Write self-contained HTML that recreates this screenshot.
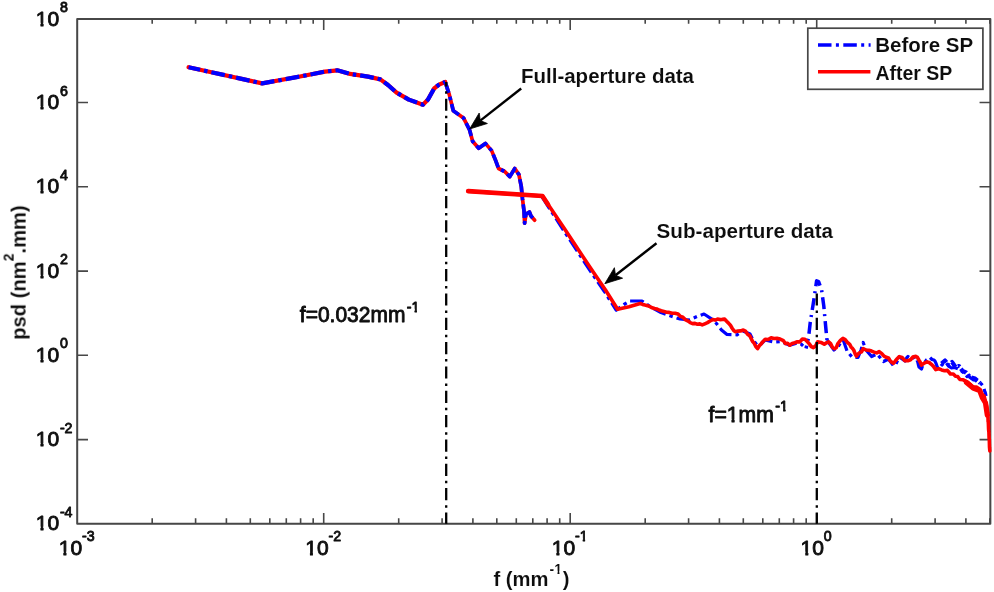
<!DOCTYPE html>
<html><head><meta charset="utf-8"><title>PSD plot</title>
<style>html,body{margin:0;padding:0;background:#fff;}svg{display:block}text{font-family:"Liberation Sans",Arial,Helvetica,sans-serif;fill:#0a0a0a;stroke:#0a0a0a;stroke-width:0.85px;stroke-linejoin:round}.b{font-weight:bold;stroke:#fff;stroke-width:0.09px}</style></head><body>
<svg width="994" height="592" viewBox="0 0 994 592">
<defs><filter id="soft" x="-5%" y="-5%" width="110%" height="110%"><feGaussianBlur stdDeviation="0.6"/></filter></defs>
<rect x="0" y="0" width="994" height="592" fill="#ffffff"/>
<g filter="url(#soft)">
<rect x="77.2" y="19.1" width="913.15" height="504.65" fill="none" stroke="#464646" stroke-width="2" stroke-linejoin="round"/>
<path d="M152.2 523.75v-5.4M152.2 19.1v4.7M195.6 523.75v-5.4M195.6 19.1v4.7M226.4 523.75v-5.4M226.4 19.1v4.7M250.3 523.75v-5.4M250.3 19.1v4.7M269.8 523.75v-5.4M269.8 19.1v4.7M286.3 523.75v-5.4M286.3 19.1v4.7M300.6 523.75v-5.4M300.6 19.1v4.7M313.2 523.75v-5.4M313.2 19.1v4.7M323.7 523.75v-10.8M323.7 19.1v10.8M398.7 523.75v-5.4M398.7 19.1v4.7M442.1 523.75v-5.4M442.1 19.1v4.7M472.9 523.75v-5.4M472.9 19.1v4.7M496.8 523.75v-5.4M496.8 19.1v4.7M516.3 523.75v-5.4M516.3 19.1v4.7M532.8 523.75v-5.4M532.8 19.1v4.7M547.1 523.75v-5.4M547.1 19.1v4.7M559.7 523.75v-5.4M559.7 19.1v4.7M570.2 523.75v-10.8M570.2 19.1v10.8M645.2 523.75v-5.4M645.2 19.1v4.7M688.6 523.75v-5.4M688.6 19.1v4.7M719.4 523.75v-5.4M719.4 19.1v4.7M743.3 523.75v-5.4M743.3 19.1v4.7M762.8 523.75v-5.4M762.8 19.1v4.7M779.3 523.75v-5.4M779.3 19.1v4.7M793.6 523.75v-5.4M793.6 19.1v4.7M806.2 523.75v-5.4M806.2 19.1v4.7M816.7 523.75v-10.8M816.7 19.1v10.8M891.7 523.75v-5.4M891.7 19.1v4.7M935.1 523.75v-5.4M935.1 19.1v4.7M965.9 523.75v-5.4M965.9 19.1v4.7M989.8 523.75v-5.4M989.8 19.1v4.7M77.2 102.5h10.8M990.35 102.5h-10.8M77.2 186.8h10.8M990.35 186.8h-10.8M77.2 271.1h10.8M990.35 271.1h-10.8M77.2 355.3h10.8M990.35 355.3h-10.8M77.2 439.6h10.8M990.35 439.6h-10.8" stroke="#464646" stroke-width="1.6" fill="none"/>
<clipPath id="c1"><path clip-rule="evenodd" d="M-400 -400H400V400H-400ZM0.10 -2.97H4.73V1.50H0.10ZM7.69 -2.97H12.15V1.50H7.69Z"/></clipPath>
<text font-size="21" clip-path="url(#c1)" transform="translate(35.8 25.8) scale(1.0 1.0)">10</text>
<text font-size="14.2" transform="translate(59.9 12.3) scale(1.0 1.0)">8</text>
<text font-size="21" clip-path="url(#c1)" transform="translate(35.8 109.1) scale(1.0 1.0)">10</text>
<text font-size="14.2" transform="translate(59.9 95.6) scale(1.0 1.0)">6</text>
<text font-size="21" clip-path="url(#c1)" transform="translate(35.8 193.4) scale(1.0 1.0)">10</text>
<text font-size="14.2" transform="translate(59.9 179.9) scale(1.0 1.0)">4</text>
<text font-size="21" clip-path="url(#c1)" transform="translate(35.8 277.7) scale(1.0 1.0)">10</text>
<text font-size="14.2" transform="translate(59.9 264.2) scale(1.0 1.0)">2</text>
<text font-size="21" clip-path="url(#c1)" transform="translate(35.8 361.9) scale(1.0 1.0)">10</text>
<text font-size="14.2" transform="translate(59.9 348.4) scale(1.0 1.0)">0</text>
<text font-size="21" clip-path="url(#c1)" transform="translate(35.8 446.2) scale(1.0 1.0)">10</text>
<text font-size="14.2" transform="translate(59.9 432.7) scale(1.0 1.0)">-2</text>
<text font-size="21" clip-path="url(#c1)" transform="translate(35.8 529.5) scale(1.0 1.0)">10</text>
<text font-size="14.2" transform="translate(59.9 517.0) scale(1.0 1.0)">-4</text>
<clipPath id="c2"><path clip-rule="evenodd" d="M-400 -400H400V400H-400ZM4.31 -2.46H7.75V1.50H4.31ZM10.10 -2.46H13.43V1.50H10.10Z"/></clipPath>
<text font-size="21" clip-path="url(#c1)" transform="translate(58.7 554.5) scale(1.0 1.0)">10</text>
<text font-size="14.2" transform="translate(82.0 540.7) scale(1.0 1.0)">-3</text>
<text font-size="21" clip-path="url(#c1)" transform="translate(305.2 554.5) scale(1.0 1.0)">10</text>
<text font-size="14.2" transform="translate(328.5 540.7) scale(1.0 1.0)">-2</text>
<text font-size="21" clip-path="url(#c1)" transform="translate(551.7 554.5) scale(1.0 1.0)">10</text>
<text font-size="14.2" clip-path="url(#c2)" transform="translate(575.0 540.7) scale(1.0 1.0)">-1</text>
<text font-size="21" clip-path="url(#c1)" transform="translate(800.6 554.5) scale(1.0 1.0)">10</text>
<text font-size="14.2" transform="translate(823.8 540.7) scale(1.0 1.0)">0</text>
<text class="b" font-size="20.2" transform="translate(25.6 339.8) rotate(-90)">psd (nm<tspan font-size="14" dy="-12.2">2</tspan><tspan dy="12.2">.mm)</tspan></text>
<clipPath id="c3"><path clip-rule="evenodd" d="M-400 -400H400V400H-400ZM60.23 -15.03H64.12V-10.70H60.23ZM66.04 -15.03H69.75V-10.70H66.04Z"/></clipPath>
<text class="b" font-size="20.2" clip-path="url(#c3)" transform="translate(493.4 585.8)">f (mm<tspan font-size="14" dy="-12.2" dx="1.2">-1</tspan><tspan dy="12.2" dx="0.8">)</tspan></text>
<path d="M445.2 82.0L449.3 94.6L453.3 110.8L463.5 117.9L469.6 130.0L472.6 141.2L478.7 148.3L485.4 143.4L491.6 150.6L495.6 160.4L498.6 168.5L504.7 171.5L509.8 176.6L514.8 168.5L518.9 174.6L521.3 186.7L522.5 198.9L524.0 211.0L524.6 223.2L526.0 214.0L529.4 212.0L531.0 216.0L534.7 220.2" stroke="#ff0000" stroke-width="3.7" fill="none" stroke-linejoin="round" stroke-linecap="round"/>
<path d="M445.2 82.0L449.3 94.6L453.3 110.8L463.5 117.9L469.6 130.0L472.6 141.2L478.7 148.3L485.4 143.4L491.6 150.6L495.6 160.4L498.6 168.5L504.7 171.5L509.8 176.6L514.8 168.5L518.9 174.6L521.3 186.7L522.5 198.9L524.0 211.0L524.6 223.2L526.0 214.0L529.4 212.0L531.0 216.0L534.7 220.2" stroke="#0000ff" stroke-width="3.7" fill="none" stroke-linejoin="round" stroke-dasharray="13.8 4.0 3.5 4.0" stroke-dashoffset="2.3"/>
<path d="M188.6 67.2L262.2 83.4L300.0 76.5L325.0 71.6L337.2 70.3L350.0 73.9L368.0 76.6L380.4 79.4L388.0 85.0L396.6 92.6L408.8 99.6L422.9 104.7L428.0 99.6L434.1 88.5L439.0 84.6L445.2 82.0" stroke="#ff0000" stroke-width="4.2" fill="none" stroke-linejoin="round" stroke-linecap="round"/>
<path d="M188.6 67.2L262.2 83.4L300.0 76.5L325.0 71.6L337.2 70.3L350.0 73.9L368.0 76.6L380.4 79.4L388.0 85.0L396.6 92.6L408.8 99.6L422.9 104.7L428.0 99.6L434.1 88.5L439.0 84.6L445.2 82.0" stroke="#0000ff" stroke-width="4.2" fill="none" stroke-linejoin="round" stroke-dasharray="13.8 4.0 3.5 4.0" stroke-dashoffset="2.0"/>
<path d="M542.2 197.2L564.0 231.0L588.9 268.9L604.4 291.5L616.2 310.2L624.0 304.5L630.0 301.0L642.0 301.0L650.0 306.5L661.0 312.5L672.0 316.5L680.0 319.0L689.0 320.0L697.0 316.5L704.0 314.0L712.7 319.6L716.0 323.0L721.5 330.0L727.0 334.5L737.0 334.8L743.0 331.0L750.0 334.0L753.0 340.0L757.0 345.0L761.0 344.0L765.0 340.0L774.0 342.0L781.0 341.5L789.7 345.2L797.0 343.0L801.0 344.0L806.0 348.5" stroke="#0000ff" stroke-width="3.2" fill="none" stroke-linejoin="round" stroke-dasharray="13.8 4.0 3.5 4.0"/>
<path d="M806.0 348.5L808.5 338.0L810.3 322.0L813.2 304.0L815.3 290.0L816.6 280.8L818.6 281.6L821.6 290.0L823.8 306.0L826.0 330.0L827.0 340.0" stroke="#0000ff" stroke-width="3.5" fill="none" stroke-linejoin="round" stroke-dasharray="12 5 2 5" stroke-dashoffset="9"/>
<path d="M827.0 340.0L829.0 343.0L834.0 350.0L838.0 347.0L842.9 339.0L847.0 351.0L852.0 357.0L858.0 357.5L861.0 350.0L863.2 342.5L866.0 350.0L871.6 356.5L877.0 354.0L883.5 361.5L888.5 359.0L893.6 366.0L896.0 364.0L899.3 357.0L905.0 361.0L906.0 359.2L907.0 357.4L908.0 356.5L910.0 358.0L912.0 359.0L914.0 357.2L916.0 357.0L916.6 359.1L917.2 360.7L917.8 362.1L918.4 365.0L919.0 367.0L921.5 369.0L922.4 366.3L923.2 365.4L924.1 362.8L925.0 362.0L926.7 359.6L928.3 358.8L930.0 357.5L932.0 359.5L934.0 360.0L935.0 361.1L936.0 363.3L937.0 366.3L938.0 368.0L939.5 368.0L941.0 365.9L942.5 364.4L944.0 363.5L945.7 365.8L947.3 364.3L949.0 366.5L951.5 368.0L954.0 367.5L956.0 368.0L958.0 368.8L960.0 371.0L962.0 371.1L964.0 373.5L965.5 373.9L967.0 376.5L968.5 375.5L970.0 377.5L971.8 378.8L973.5 380.0L975.2 380.1L977.0 381.5L978.4 383.0L979.8 382.5L981.2 383.8L982.6 385.6L984.0 388.0L984.5 390.7L985.0 391.7L985.5 393.3L986.0 396.0" stroke="#0000ff" stroke-width="3.2" fill="none" stroke-linejoin="round" stroke-dasharray="13.8 4.0 3.5 4.0"/>
<path d="M941.5 363.5L945 360.5L948.5 365L952 362L955.5 367L959 366L962.5 371L966 372.5L970 377L975 378.5L980 383" stroke="#0000ff" stroke-width="4.2" fill="none" stroke-linejoin="round" stroke-dasharray="7 2.4 2.2 2.4"/>
<path d="M468.2 191.2L542.4 196.0L565.0 229.6L590.0 267.3L605.5 290.0L617.6 309.2L629.0 306.7L640.2 303.5L642.6 304.4L645.0 305.1L647.5 305.7L649.9 306.7L652.2 307.8L654.4 308.5L656.7 308.9L658.9 310.0L661.2 310.8L663.9 311.4L666.5 312.2L669.2 312.4L672.2 313.2L675.1 313.2L678.1 314.0L680.5 316.4L682.9 317.3L685.3 319.6L687.7 320.8L690.2 322.6L692.6 323.6L695.0 323.4L697.4 324.2L699.8 323.9L702.2 324.9L704.8 323.8L707.5 322.6L710.1 321.0L712.7 319.6L715.1 320.1L717.5 319.1L719.9 319.6L722.3 319.4L724.7 319.1L726.6 321.3L728.5 323.1L730.4 325.2L732.0 328.0L733.6 330.3L735.2 331.7L737.9 331.1L740.6 330.9L743.3 330.1L745.4 331.1L747.6 334.2L749.7 335.7L751.1 338.4L752.6 341.6L754.0 343.0L755.8 346.5L757.6 348.6L759.3 345.8L761.0 344.0L763.1 341.4L765.2 339.3L768.2 339.5L771.1 337.8L774.0 338.5L777.0 338.4L779.1 338.7L781.2 339.7L783.4 340.7L785.5 343.6L787.6 343.2L789.7 345.2L792.2 343.4L794.8 342.7L797.3 341.8L799.8 341.9L802.4 339.0L804.9 339.3L807.0 341.3L809.1 343.6L811.3 346.6L813.4 347.7L814.8 346.6L816.2 344.8L817.6 341.8L821.0 342.4L824.3 344.3L826.5 342.8L828.6 341.8L830.6 343.6L832.5 347.5L834.5 348.6L836.2 347.9L837.9 343.5L839.5 341.5L841.2 339.6L842.9 338.4L845.2 339.6L847.4 342.3L849.7 344.3L851.0 346.9L852.4 348.3L853.7 350.0L855.1 353.6L856.4 356.2L858.1 353.9L859.8 352.6L861.5 351.9L863.2 348.6L866.0 350.0L868.8 350.3L871.6 351.1L874.1 352.1L876.7 352.9L879.2 351.6L881.8 353.6L884.0 356.2L886.3 357.3L888.5 357.9L890.2 360.8L891.9 362.4L893.6 363.3L895.5 360.7L897.4 358.5L899.3 356.6L902.1 357.5L905.0 360.8L907.8 360.7L910.5 359.7L913.2 356.7L916.0 356.4L917.4 357.3L918.8 359.9L920.1 362.0L921.5 365.2L924.2 363.1L927.0 361.9L929.2 362.5L931.4 364.3L933.6 366.6L935.8 369.6L938.7 368.8L941.6 369.9L944.5 370.7L947.4 370.4L950.4 374.0L953.3 374.0L955.5 376.2L957.7 376.6L959.9 379.5L963.2 379.8L966.5 381.6L968.7 383.0L970.9 384.9L973.1 387.1L976.4 387.1L979.7 389.3L981.2 392.5L982.6 395.2L984.1 395.9L984.8 398.7L985.6 401.7L986.3 404.7L986.6 406.1L987.0 408.8L987.3 412.2L987.7 414.6L988.0 418.0L988.1 421.5L988.3 422.0L988.4 424.1L988.6 429.4L988.7 430.6L988.9 431.9L989.0 435.5L989.1 438.2L989.3 439.2L989.4 443.3L989.5 447.2L989.7 449.4L989.8 450.9" stroke="#ff0000" stroke-width="3.6" fill="none" stroke-linejoin="round" stroke-linecap="round"/>
<path d="M468.2 191.2L542.4 196L548 204.5" stroke="#ff0000" stroke-width="4.7" fill="none" stroke-linejoin="round" stroke-linecap="round"/>
<path d="M966.5 382.6L973.1 388L979.7 390.5L982.5 398L985.5 403L987.3 415" stroke="#ff0000" stroke-width="5.2" fill="none" stroke-linejoin="round" stroke-linecap="round"/>
<path d="M446.2 523.75V82" stroke="#000" stroke-width="2.3" fill="none" stroke-dasharray="12.2 4.8 2.5 4.84" stroke-dashoffset="0.9"/>
<path d="M816.8 523.75V291" stroke="#000" stroke-width="2.3" fill="none" stroke-dasharray="12.2 4.8 2.5 4.84" stroke-dashoffset="0.9"/>
<text class="b" font-size="20.2" x="521" y="82.6" textLength="173" lengthAdjust="spacingAndGlyphs">Full-aperture data</text>
<text class="b" font-size="20.2" x="656.6" y="237.9" textLength="176.5" lengthAdjust="spacingAndGlyphs">Sub-aperture data</text>
<clipPath id="c4"><path clip-rule="evenodd" d="M-400 -400H400V400H-400ZM111.35 -12.56H114.79V-8.60H111.35ZM117.14 -12.56H120.47V-8.60H117.14Z"/></clipPath>
<clipPath id="c5"><path clip-rule="evenodd" d="M-400 -400H400V400H-400ZM18.20 -2.97H22.83V1.50H18.20ZM25.78 -2.97H30.25V1.50H25.78ZM70.47 -12.56H73.91V-8.60H70.47ZM76.27 -12.56H79.60V-8.60H76.27Z"/></clipPath>
<text font-size="21" clip-path="url(#c4)" transform="translate(299.8 322.4) scale(1.0 1.08)">f=0.032mm<tspan font-size="14.2" dy="-10.1" dx="1.4">-1</tspan></text>
<text font-size="21" clip-path="url(#c5)" transform="translate(708.5 422.1) scale(1.01 1.08)">f=1mm<tspan font-size="14.2" dy="-10.1" dx="1.4">-1</tspan></text>
<path d="M521.2 88.5L480.3 120.6" stroke="#000" stroke-width="2.4" fill="none"/>
<path d="M469.6 129.0L479.2 113.0L480.3 120.6L487.4 123.5Z" fill="#000" stroke="#000" stroke-width="0.8" stroke-linejoin="round"/>
<path d="M656.5 243.2L615.5 275.3" stroke="#000" stroke-width="2.4" fill="none"/>
<path d="M604.8 283.7L614.4 267.7L615.5 275.3L622.6 278.2Z" fill="#000" stroke="#000" stroke-width="0.8" stroke-linejoin="round"/>
<rect x="807.8" y="28.2" width="175.1" height="61.1" fill="#fff" stroke="#464646" stroke-width="1.7"/>
<path d="M818 45H870.6" stroke="#0000ff" stroke-width="3.5" fill="none" stroke-dasharray="13.5 4.4 3 4.4"/>
<path d="M818 71.7H870.4" stroke="#ff0000" stroke-width="3.5" fill="none"/>
<text class="b" font-size="20.2" x="875.2" y="51.5" textLength="98" lengthAdjust="spacingAndGlyphs">Before SP</text>
<text class="b" font-size="20.2" x="875.4" y="79.6" textLength="77" lengthAdjust="spacingAndGlyphs">After SP</text>
</g></svg></body></html>
